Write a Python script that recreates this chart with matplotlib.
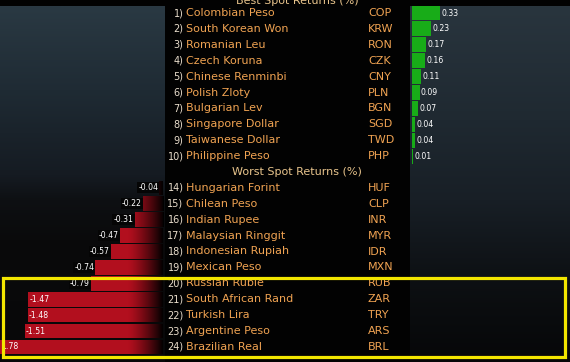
import numpy as np
import matplotlib
matplotlib.use("Agg")
import matplotlib.pyplot as plt
from matplotlib.patches import Rectangle

# ---------------- data ----------------
best_title = "Best Spot Returns (%)"
worst_title = "Worst Spot Returns (%)"

best_ranks = ["1)", "2)", "3)", "4)", "5)", "6)", "7)", "8)", "9)", "10)"]
best_names = ["Colombian Peso", "South Korean Won", "Romanian Leu", "Czech Koruna",
              "Chinese Renminbi", "Polish Zloty", "Bulgarian Lev", "Singapore Dollar",
              "Taiwanese Dollar", "Philippine Peso"]
best_codes = ["COP", "KRW", "RON", "CZK", "CNY", "PLN", "BGN", "SGD", "TWD", "PHP"]
best_vals = [0.33, 0.23, 0.17, 0.16, 0.11, 0.09, 0.07, 0.04, 0.04, 0.01]

worst_ranks = ["14)", "15)", "16)", "17)", "18)", "19)", "20)", "21)", "22)", "23)", "24)"]
worst_names = ["Hungarian Forint", "Chilean Peso", "Indian Rupee", "Malaysian Ringgit",
               "Indonesian Rupiah", "Mexican Peso", "Russian Ruble", "South African Rand",
               "Turkish Lira", "Argentine Peso", "Brazilian Real"]
worst_codes = ["HUF", "CLP", "INR", "MYR", "IDR", "MXN", "RUB", "ZAR", "TRY", "ARS", "BRL"]
worst_vals = [-0.04, -0.22, -0.31, -0.47, -0.57, -0.74, -0.79, -1.47, -1.48, -1.51, -1.78]
worst_labels = ["-0.04", "-0.22", "-0.31", "-0.47", "-0.57", "-0.74", "-0.79",
                "-1.47", "-1.48", "-1.51", "1.78"]

# ---------------- layout ----------------
W, H = 570, 362
ROW0, PITCH = 13.0, 15.9
ylim_rows = ((H - ROW0) / PITCH, -ROW0 / PITCH)

best_rows = np.arange(len(best_vals))
worst_rows = np.arange(len(worst_vals)) + 11
worst_title_row = 10
best_title_row = (1.0 - ROW0) / PITCH

fig = plt.figure(figsize=(W / 100, H / 100), dpi=100, facecolor="#020202")

# background panels
ax_bg = fig.add_axes([0, 0, 1, 1], zorder=0)
ax_bg.set_xlim(0, W)
ax_bg.set_ylim(H, 0)
ax_bg.axis("off")


def vgrad(ax, x0, x1, y0, y1, stops):
    ys = np.linspace(y0, y1, 300)
    pos = [s[0] for s in stops]
    cols = np.array([s[1] for s in stops], dtype=float) / 255.0
    img = np.stack([np.interp(ys, pos, cols[:, c]) for c in range(3)], axis=-1)
    img = img[:, None, :]
    ax.imshow(img, extent=(x0, x1, y1, y0), aspect="auto", interpolation="bilinear")


vgrad(ax_bg, 0, 165, 6, H, [(6, (42, 57, 67)), (90, (31, 43, 52)), (175, (21, 27, 34)),
                             (200, (14, 16, 19)), (240, (10, 10, 11)), (H, (8, 8, 9))])
vgrad(ax_bg, 410, W, 6, H, [(6, (41, 53, 62)), (120, (31, 41, 49)), (200, (24, 31, 38)),
                             (280, (13, 16, 19)), (H, (6, 7, 8))])
ax_bg.set_xlim(0, W)
ax_bg.set_ylim(H, 0)

# ---------------- left (worst) bars ----------------
px_per_unit_L = 91.5
axL = fig.add_axes([0, 0, 163 / W, 1], zorder=1)
axL.patch.set_alpha(0)
red = "#B20F1E"
barsL = axL.barh(worst_rows, worst_vals, height=0.93, color=red, lw=0)
grad = np.zeros((1, 256, 4))
t = np.linspace(0, 1, 256)
grad[..., 3] = np.clip(t, 0, 1) ** 1.3
for b in barsL:
    im = axL.imshow(grad, extent=(-0.38, 0.0, ylim_rows[0], ylim_rows[1]),
                    aspect="auto", interpolation="bilinear", zorder=2)
    im.set_clip_path(b)
axL.set_xlim(-163 / px_per_unit_L, 0)
axL.set_ylim(*ylim_rows)
axL.axis("off")

for v, r, lab in zip(worst_vals, worst_rows, worst_labels):
    if abs(v) >= 1.0:
        axL.annotate(lab, (v, r), xytext=(0.8, 0), textcoords="offset points",
                     ha="left", va="center", fontsize=5.6, color="white", zorder=4)
    else:
        axL.annotate(lab, (v, r), xytext=(-0.8, 0), textcoords="offset points",
                     ha="right", va="center", fontsize=5.6, color="white", zorder=4,
                     bbox=dict(facecolor="#050505", edgecolor="none", pad=0.8))

# ---------------- right (best) bars ----------------
px_per_unit_R = 84.0
axR = fig.add_axes([412 / W, 0, (W - 412) / W, 1], zorder=1)
axR.patch.set_alpha(0)
green = "#18AC18"
axR.barh(best_rows, best_vals, height=0.94, color=green, lw=0)
axR.set_xlim(0, (W - 412) / px_per_unit_R)
axR.set_ylim(*ylim_rows)
axR.axis("off")
for v, r in zip(best_vals, best_rows):
    axR.annotate(f"{v:.2f}", (v, r), xytext=(1.0, 0), textcoords="offset points",
                 ha="left", va="center", fontsize=5.6, color="white")

# ---------------- text column ----------------
ax_txt = fig.add_axes([0, 0, 1, 1], zorder=2)
ax_txt.patch.set_alpha(0)
ax_txt.set_xlim(0, W)
ax_txt.set_ylim(*ylim_rows)
ax_txt.axis("off")

orange = "#F0A352"
numcol = "#E9DDCC"
titlecol = "#E8C48C"
fs = 8.0

ax_txt.text(297, best_title_row, best_title, ha="center", va="center",
            fontsize=fs, color=titlecol)
ax_txt.text(297, worst_title_row, worst_title, ha="center", va="center",
            fontsize=fs, color=titlecol)

for ranks, names, codes, rows in [(best_ranks, best_names, best_codes, best_rows),
                                  (worst_ranks, worst_names, worst_codes, worst_rows)]:
    for rk, nm, cd, r in zip(ranks, names, codes, rows):
        ax_txt.text(183.5, r, rk, ha="right", va="center", fontsize=7.0, color=numcol)
        ax_txt.text(185.5, r, nm, ha="left", va="center", fontsize=fs, color=orange)
        ax_txt.text(368, r, cd, ha="left", va="center", fontsize=fs, color=orange)

# ---------------- highlight box ----------------
ax_top = fig.add_axes([0, 0, 1, 1], zorder=3)
ax_top.patch.set_alpha(0)
ax_top.set_xlim(0, W)
ax_top.set_ylim(H, 0)
ax_top.axis("off")
ax_top.add_patch(Rectangle((3, 278), 562, 79, fill=False, ec="#F3E600", lw=2.3))

fig.savefig("out.png", dpi=100, facecolor=fig.get_facecolor())
